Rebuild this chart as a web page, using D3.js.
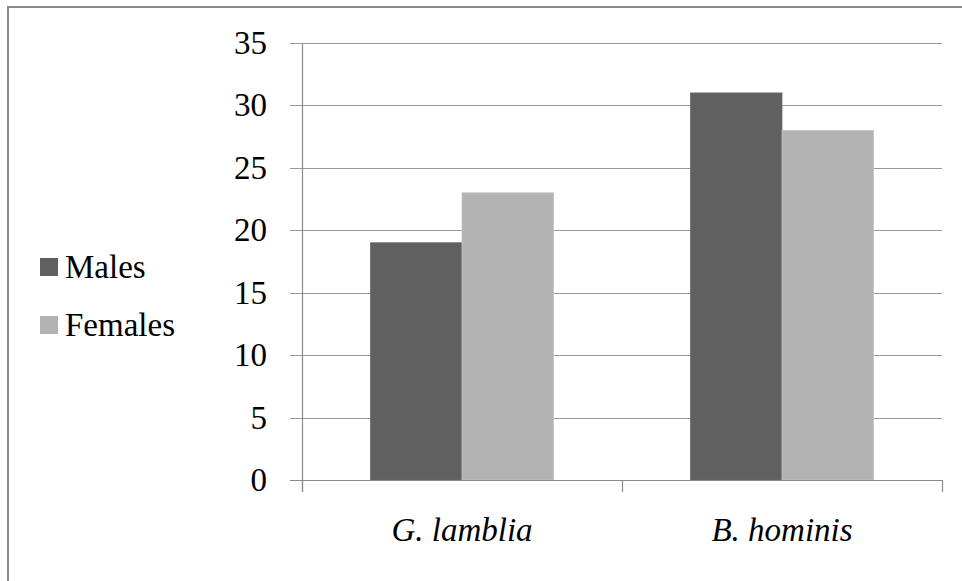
<!DOCTYPE html>
<html>
<head>
<meta charset="utf-8">
<script src="https://cdn.jsdelivr.net/npm/d3@7"></script>
</head>
<body style="margin:0;background:#fff">
<div id="wrap" style="position:relative;width:962px;height:581px;overflow:hidden">
<svg id="chart" width="962" height="581" style="position:absolute;left:0;top:0"></svg>
</div>
<script>
const categories = ["G. lamblia", "B. hominis"];
const seriesNames = ["Males", "Females"];
const males = [19, 31];
const females = [23, 28];
const yTicks = [0, 5, 10, 15, 20, 25, 30, 35];
const colors = ["#606060", "#b2b2b2"];

const seriesValues = [males, females];
const FONT = '"Liberation Serif", Tinos, "Times New Roman", serif';
const svg = d3.select("#chart");
const wrap = d3.select("#wrap");
const W = 962, H = 581;
const margin = { left: 302, right: 20, top: 43, bottom: 101 };
const plotW = W - margin.left - margin.right;
const plotH = H - margin.top - margin.bottom;

svg.append("rect").attr("x", 8).attr("y", 7).attr("width", W + 20).attr("height", H + 20)
  .attr("fill", "#fff").attr("stroke", "#8a8a8a").attr("stroke-width", 2);

const x0 = d3.scaleBand().domain(categories).range([margin.left, margin.left + plotW]).paddingInner(0).paddingOuter(0);
const gapRatio = 1.5;
const groupW = x0.bandwidth() * 2 / (2 + gapRatio);
const x1 = d3.scaleBand().domain(seriesNames).range([0, groupW]).padding(0);
const y = d3.scaleLinear().domain([0, 35]).range([margin.top + plotH, margin.top]);
const L = margin.left, B = margin.top + plotH;

// gridlines
svg.append("g").selectAll("line").data(yTicks).join("line")
  .attr("x1", L - 12).attr("x2", L + plotW)
  .attr("y1", d => Math.round(y(d)) + 0.5).attr("y2", d => Math.round(y(d)) + 0.5)
  .attr("stroke", "#999").attr("stroke-width", 1.2);

// bars
svg.selectAll("rect.bar")
  .data(categories.flatMap((c, i) => seriesNames.map((s, j) => ({ c, s, v: seriesValues[j][i], j }))))
  .join("rect").attr("class", "bar")
  .attr("x", d => x0(d.c) + (x0.bandwidth() - groupW) / 2 + x1(d.s)).attr("width", x1.bandwidth())
  .attr("y", d => y(d.v)).attr("height", d => y(0) - y(d.v))
  .attr("fill", d => colors[d.j])
  .attr("stroke", d => d3.color(colors[d.j]).brighter(0.25)).attr("stroke-width", 0.8);

// axes
svg.append("line").attr("x1", L + 0.5).attr("x2", L + 0.5).attr("y1", margin.top).attr("y2", B + 12)
  .attr("stroke", "#8a8a8a").attr("stroke-width", 1.2);
svg.append("line").attr("x1", L - 12).attr("x2", L + plotW).attr("y1", B + 0.5).attr("y2", B + 0.5)
  .attr("stroke", "#8a8a8a").attr("stroke-width", 1.2);
const xTickPos = [L, ...categories.map(c => x0(c) + x0.bandwidth())];
svg.append("g").selectAll("line").data(xTickPos).join("line")
  .attr("x1", d => Math.round(d) + 0.5).attr("x2", d => Math.round(d) + 0.5)
  .attr("y1", B).attr("y2", B + 12)
  .attr("stroke", "#8a8a8a").attr("stroke-width", 1.2);

// HTML text labels
function label(sel) {
  return sel.style("position", "absolute").style("font-family", FONT)
    .style("font-size", "33px").style("line-height", "38px").style("color", "#000")
    .style("white-space", "nowrap");
}
// y tick labels: right edge at L-35, vertically centred on tick
label(wrap.selectAll("div.ytick").data(yTicks).join("div").attr("class", "ytick"))
  .style("right", (W - (L - 35)) + "px")
  .style("top", d => (y(d) - 19) + "px")
  .style("text-align", "right")
  .text(d => d);

// category labels
label(wrap.selectAll("div.cat").data(categories).join("div").attr("class", "cat"))
  .style("left", c => x0(c) + "px")
  .style("width", x0.bandwidth() + "px")
  .style("text-align", "center")
  .style("top", (B + 31) + "px")
  .style("font-style", "italic")
  .text(c => c);

// legend
svg.selectAll("rect.leg").data(seriesNames).join("rect").attr("class", "leg")
  .attr("x", 40).attr("y", (d, i) => 258 + i * 58)
  .attr("width", 18).attr("height", 18)
  .attr("fill", (d, i) => colors[i]);
label(wrap.selectAll("div.leg").data(seriesNames).join("div").attr("class", "leg"))
  .style("left", "65px")
  .style("top", (d, i) => (248 + i * 58) + "px")
  .text(d => d);
</script>
</body>
</html>
